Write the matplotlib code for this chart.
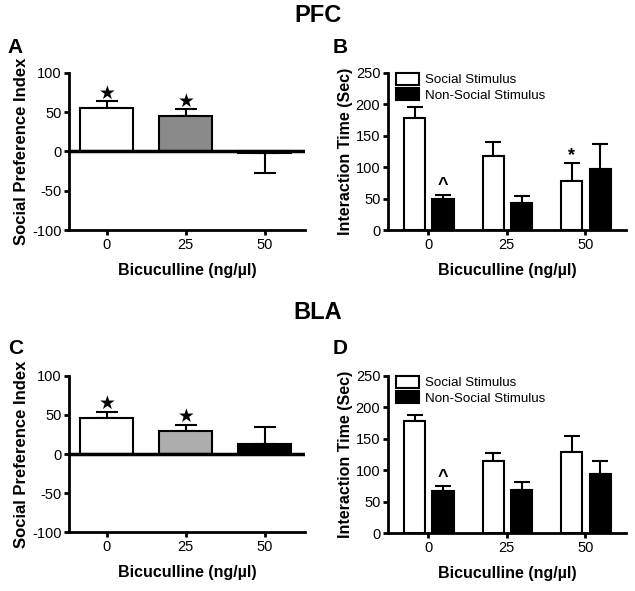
import matplotlib
matplotlib.use("Agg")
import matplotlib.pyplot as plt
import numpy as np

plt.rcParams['font.family'] = ['Liberation Sans', 'DejaVu Sans']
plt.rcParams['axes.unicode_minus'] = False

doses = ['0', '25', '50']

# social preference index (A: PFC, C: BLA)
spi_pfc = [55.5, 44.5, -2]
spi_pfc_err = [8, 9, 25]
spi_bla = [46, 29, 13]
spi_bla_err = [8, 7.5, 21.5]
spi_colors_pfc = ['white', '#8a8a8a', 'black']
spi_colors_bla = ['white', '#adadad', 'black']

# interaction time (B: PFC, D: BLA)
soc_pfc = [178.5, 118, 78]
soc_pfc_err = [17, 22, 28]
non_pfc = [48.5, 43.5, 96.5]
non_pfc_err = [7.5, 10.5, 40]
soc_bla = [178, 115, 129.5]
soc_bla_err = [10, 13, 25.5]
non_bla = [66.5, 68.5, 94]
non_bla_err = [9, 13.5, 21]

fig = plt.figure(figsize=(6.35, 5.91), dpi=100)


def style(ax):
    for s in ['top', 'right']:
        ax.spines[s].set_visible(False)
    for s in ['left', 'bottom']:
        ax.spines[s].set_linewidth(2)
    ax.tick_params(width=2, length=3.5, labelsize=10.5, pad=2)
    ax.set_xlabel('Bicuculline (ng/\u00b5l)', fontsize=11.5, fontweight='bold', labelpad=8)


def spi_panel(rect, vals, errs, colors, stars):
    ax = fig.add_axes(rect)
    x = np.arange(3)
    lo = [e if v < 0 else 0 for v, e in zip(vals, errs)]
    hi = [0 if v < 0 else e for v, e in zip(vals, errs)]
    ax.bar(x, vals, width=0.67, color=colors, edgecolor='black', linewidth=1.5, zorder=2)
    ax.errorbar(x, vals, yerr=[lo, hi], fmt='none', ecolor='black', elinewidth=1.5,
                capsize=8, capthick=1.5, zorder=1)
    ax.axhline(0, color='black', lw=2.5, zorder=3)
    for i, y in stars:
        ax.text(i, y, '\u2605', ha='center', va='center', fontsize=13.5, family='DejaVu Sans')
    ax.set_xlim(-0.48, 2.51)
    ax.set_ylim(-100, 100)
    ax.set_yticks([-100, -50, 0, 50, 100])
    ax.set_xticks(x)
    ax.set_xticklabels(doses)
    ax.set_ylabel('Social Preference Index', fontsize=12, fontweight='bold', labelpad=2)
    style(ax)
    return ax


def it_panel(rect, soc, soc_err, non, non_err, marks):
    ax = fig.add_axes(rect)
    x = np.arange(3)
    w = 0.27
    ax.bar(x - 0.17, soc, width=w, color='white', edgecolor='black', linewidth=1.5,
           label='Social Stimulus', zorder=2)
    ax.bar(x + 0.19, non, width=w, color='black', edgecolor='black', linewidth=1.5,
           label='Non-Social Stimulus', zorder=2)
    ax.errorbar(x - 0.17, soc, yerr=[[0] * 3, soc_err], fmt='none', ecolor='black',
                elinewidth=1.5, capsize=5.5, capthick=1.5, zorder=1)
    ax.errorbar(x + 0.19, non, yerr=[[0] * 3, non_err], fmt='none', ecolor='black',
                elinewidth=1.5, capsize=5.5, capthick=1.5, zorder=1)
    for xx, y, s in marks:
        ax.text(xx, y, s, ha='center', va='center', fontsize=13, fontweight='bold')
    ax.set_xlim(-0.51, 2.52)
    ax.set_ylim(0, 250)
    ax.set_yticks([0, 50, 100, 150, 200, 250])
    ax.set_xticks(x)
    ax.set_xticklabels(doses)
    ax.set_ylabel('Interaction Time (Sec)', fontsize=11.5, fontweight='bold', labelpad=2)
    ax.legend(loc='upper left', bbox_to_anchor=(0.0, 1.05), frameon=False, fontsize=9.6,
              handlelength=1.75, handleheight=1.0, handletextpad=0.45, labelspacing=0.15,
              borderaxespad=0.2)
    style(ax)
    return ax


spi_panel([0.1087, 0.6108, 0.3713, 0.2662], spi_pfc, spi_pfc_err, spi_colors_pfc,
          [(0, 74), (1, 63)])
it_panel([0.611, 0.6108, 0.375, 0.2662], soc_pfc, soc_pfc_err, non_pfc, non_pfc_err,
         [(0.19, 70, '^'), (1.83, 118, '*')])
spi_panel([0.1087, 0.0993, 0.3713, 0.265], spi_bla, spi_bla_err, spi_colors_bla,
          [(0, 65), (1, 48)])
it_panel([0.611, 0.0976, 0.375, 0.2667], soc_bla, soc_bla_err, non_bla, non_bla_err,
         [(0.19, 88, '^')])

fig.text(0.5, 0.973, 'PFC', ha='center', va='center', fontsize=17, fontweight='bold')
fig.text(0.5, 0.472, 'BLA', ha='center', va='center', fontsize=17, fontweight='bold')
for lx, ly, l in [(0.024, 0.92, 'A'), (0.535, 0.92, 'B'), (0.024, 0.41, 'C'), (0.535, 0.41, 'D')]:
    fig.text(lx, ly, l, ha='center', va='center', fontsize=15, fontweight='bold')

fig.savefig('out.png', dpi=100)
